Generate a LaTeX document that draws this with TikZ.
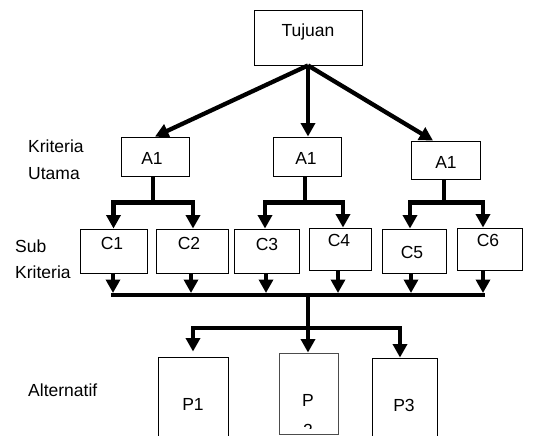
\documentclass[tikz,border=0pt]{standalone}
\usepackage{fontspec}
\setmainfont{Liberation Sans}
\usetikzlibrary{arrows.meta}
\begin{document}
\begin{tikzpicture}[x=1pt,y=-1pt,
  box/.style={draw, line width=0.9pt, rectangle, inner sep=0pt},
  lbl/.style={font=\fontsize{17.5}{19}\selectfont, inner sep=0pt},
  thickline/.style={line width=4.3pt},
  conn/.style={line width=4.3pt, -{Triangle[width=14pt,length=13.5pt]}}]
\useasboundingbox (0,0) rectangle (542,436);
\clip (0,0) rectangle (542,436);
\fill[white] (0,0) rectangle (542,436);

% boxes
\node[box, minimum width=108pt, minimum height=55pt] (T) at (308,37.5) {};
\node[box, minimum width=68pt, minimum height=39pt] (A1) at (155,156.5) {};
\node[box, minimum width=68pt, minimum height=39pt] (A2) at (307,156.5) {};
\node[box, minimum width=69pt, minimum height=38pt] (A3) at (445.5,160) {};
\node[box, minimum width=67pt, minimum height=44pt] (C1) at (113.5,251) {};
\node[box, minimum width=72pt, minimum height=44pt] (C2) at (192,251) {};
\node[box, minimum width=65pt, minimum height=44pt] (C3) at (266.5,251) {};
\node[box, minimum width=62pt, minimum height=42pt] (C4) at (340,249) {};
\node[box, minimum width=64pt, minimum height=44pt] (C5) at (414,251) {};
\node[box, minimum width=65pt, minimum height=42pt] (C6) at (489.5,249) {};
\node[box, minimum width=70pt, minimum height=120pt] (P1) at (193,417) {};
\node[box, draw=black!70, minimum width=59pt, minimum height=81pt] (P2) at (308.5,393.5) {};
\node[box, minimum width=65pt, minimum height=120pt] (P3) at (404.5,418) {};

% box texts
\node[lbl, anchor=base] (tT) at (308,37) {Tujuan};
\node[lbl, anchor=base] (tA1) at (152,164.5) {A1};
\node[lbl, anchor=base] (tA2) at (306,164.5) {A1};
\node[lbl, anchor=base] (tA3) at (446,168.5) {A1};
\node[lbl, anchor=base] (tC1) at (112,249.5) {C1};
\node[lbl, anchor=base] (tC2) at (189,249.5) {C2};
\node[lbl, anchor=base] (tC3) at (267,250.5) {C3};
\node[lbl, anchor=base] (tC4) at (339,246.5) {C4};
\node[lbl, anchor=base] (tC5) at (412,258.5) {C5};
\node[lbl, anchor=base] (tC6) at (488,246.5) {C6};
\node[lbl, anchor=base] (tP1) at (193,410) {P1};
\node[lbl, anchor=base] (tP3) at (404,411) {P3};
\begin{scope}
  \clip (279,353) rectangle (338,428);
  \node[lbl, anchor=base] (tP2a) at (308,406) {P};
  \node[lbl, anchor=base] (tP2b) at (308,436) {2};
\end{scope}

% side labels
\node[lbl, anchor=base west] (k1) at (28,153) {Kriteria};
\node[lbl, anchor=base west] (k2) at (28,179) {Utama};
\node[lbl, anchor=base west] (s1) at (15,252) {Sub};
\begin{scope}
  \clip (0,255) rectangle (90,277);
  \node[lbl, anchor=base west] (s2) at (15,278) {Kriteria};
\end{scope}
\node[lbl, anchor=base west] (alt) at (28,396) {Alternatif};

% top connectors
\draw[conn] (T.south) -- (A1.north);
\draw[conn] (T.south) -- (T.south |- A2.north);
\draw[conn] (T.south) -- ([xshift=-12.5pt]A3.north);

% A -> C
\draw[conn] ([xshift=-2pt]A1.south) -- ++(0,26) -| (C1.north);
\draw[conn] ([xshift=-2pt]A1.south) -- ++(0,26) -| ([xshift=1pt]C2.north);
\draw[conn] ([xshift=-2pt]A2.south) -- ++(0,26) -| ([xshift=-1.5pt]C3.north);
\draw[conn] ([xshift=-2pt]A2.south) -- ++(0,26) -| ([xshift=3pt]C4.north);
\draw[conn] ([xshift=-1.5pt]A3.south) -- ++(0,23) -| ([xshift=-4pt]C5.north);
\draw[conn] ([xshift=-1.5pt]A3.south) -- ++(0,23) -| ([xshift=-6.5pt]C6.north);

% C -> bus
\coordinate (busL) at (111,295);
\coordinate (busR) at (485,295);
\coordinate (stem) at (308,295);
\coordinate (hub) at (308,328);
\draw[thickline] (busL) -- (busR);
\draw[conn] ([xshift=-0.5pt]C1.south) -- ([xshift=-0.5pt]C1.south |- 0,293);
\draw[conn] ([xshift=-1pt]C2.south) -- ([xshift=-1pt]C2.south |- 0,293);
\draw[conn] ([xshift=-0.5pt]C3.south) -- ([xshift=-0.5pt]C3.south |- 0,293);
\draw[conn] ([xshift=-2pt]C4.south) -- ([xshift=-2pt]C4.south |- 0,293);
\draw[conn] ([xshift=-3pt]C5.south) -- ([xshift=-3pt]C5.south |- 0,293);
\draw[conn] ([xshift=-6.5pt]C6.south) -- ([xshift=-6.5pt]C6.south |- 0,293);

% bus -> P
\draw[thickline] (stem) -- (hub);
\draw[conn] (hub) -| ([yshift=5pt]P1.north);
\draw[conn] (hub) -- (hub |- P2.north);
\draw[conn] (hub) -| ([xshift=-4.5pt]P3.north);
\end{tikzpicture}
\end{document}
